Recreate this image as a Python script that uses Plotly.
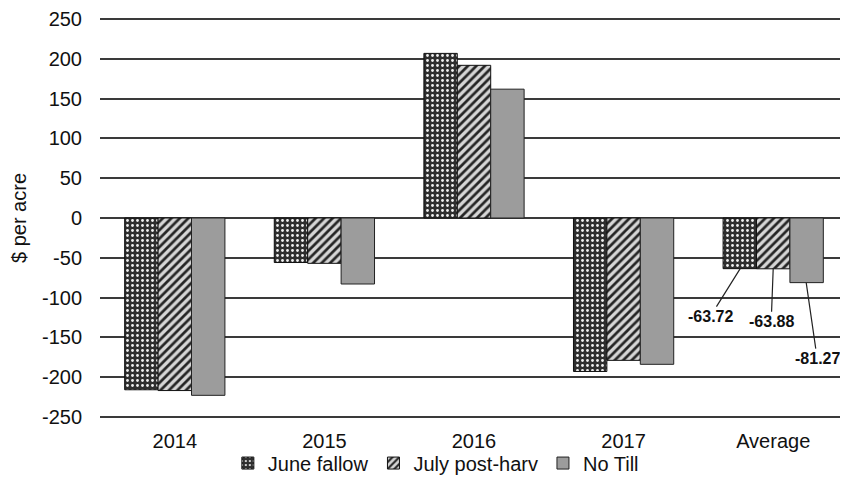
import plotly.graph_objects as go

categories = ["2014", "2015", "2016", "2017", "Average"]
june_fallow = [-216, -56, 207, -193, -63.72]
july_postharv = [-217, -57, 192, -179, -63.88]
no_till = [-223, -83, 162, -184, -81.27]
series_names = ["June fallow", "July post-harv", "No Till"]
y_ticks = [250, 200, 150, 100, 50, 0, -50, -100, -150, -200, -250]
y_tick_text = [str(v) for v in y_ticks]

FONT = "Liberation Sans, Arial, sans-serif"

fig = go.Figure()
fig.add_trace(go.Bar(
    x=categories, y=june_fallow, name=series_names[0],
    marker=dict(color="#2b2b2b", line=dict(color="#111", width=1),
                pattern=dict(shape=".", fgcolor="#f0f0f0", bgcolor="#2e2e2e",
                             size=5, solidity=0.24, fillmode="replace")),
))
fig.add_trace(go.Bar(
    x=categories, y=july_postharv, name=series_names[1],
    marker=dict(color="#222", line=dict(color="#111", width=1),
                pattern=dict(shape="/", fgcolor="#252525", bgcolor="#d6d6d6",
                             size=6, solidity=0.45, fillmode="replace")),
))
fig.add_trace(go.Bar(
    x=categories, y=no_till, name=series_names[2],
    marker=dict(color="#9c9c9c", line=dict(color="#222", width=1)),
))

# labels for the Average group
avg_idx = categories.index("Average")
label_specs = [
    (june_fallow[avg_idx], -33, -30, 48),
    (july_postharv[avg_idx], 0, -2, 53),
    (no_till[avg_idx], 33, 11, 76),
]
for val, xs, ax, ay in label_specs:
    fig.add_annotation(
        x="Average", y=val, xshift=xs, text=f"<b>{val:.2f}</b>",
        showarrow=True, arrowhead=0, arrowwidth=1.2, arrowcolor="#222",
        ax=ax, ay=ay, font=dict(family=FONT, size=16, color="#111"),
    )

fig.update_layout(
    width=848, height=479,
    margin=dict(l=92, r=8, t=10, b=69),
    paper_bgcolor="white", plot_bgcolor="white",
    barmode="group", bargap=0.33, bargroupgap=0,
    font=dict(family=FONT, size=20, color="#111"),
    showlegend=True,
    legend=dict(orientation="h", x=0.449, xanchor="center",
                yref="container", y=0.05, yanchor="middle",
                font=dict(size=20), itemwidth=30, tracegroupgap=0,
                bgcolor="rgba(0,0,0,0)"),
    xaxis=dict(showgrid=False, showline=False, ticks="", tickfont=dict(size=20),
               ticklabelstandoff=9, automargin=False),
    yaxis=dict(range=[-251.5, 251.5], tickvals=y_ticks, ticktext=y_tick_text,
               showgrid=True, gridcolor="#3a3a3a", gridwidth=1.6, zeroline=True,
               zerolinecolor="#3a3a3a", zerolinewidth=1.6, showline=False, ticks="",
               ticklabelstandoff=17, tickfont=dict(size=20), automargin=False,
               title=dict(text="$ per acre", font=dict(size=20), standoff=14)),
)

fig.write_html("out.html")
